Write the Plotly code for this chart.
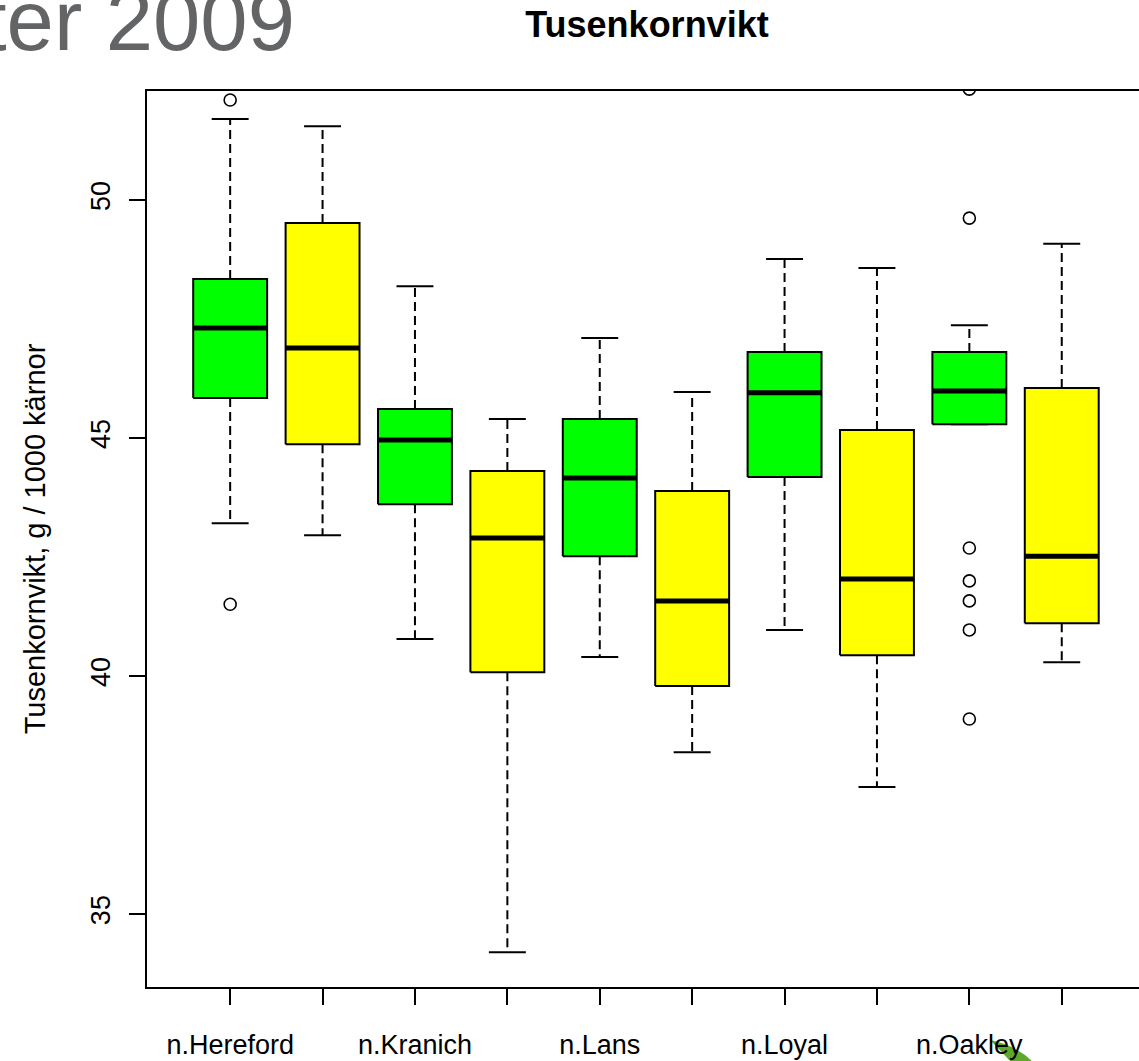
import plotly.graph_objects as go

# ---- data ----
positions = [1, 2, 3, 4, 5, 6, 7, 8, 9, 10]
tick_labels = ["n.Hereford", "", "n.Kranich", "", "n.Lans", "", "n.Loyal", "", "n.Oakley", ""]
box_colors = ["#00FF00", "#FFFF00", "#00FF00", "#FFFF00", "#00FF00",
              "#FFFF00", "#00FF00", "#FFFF00", "#00FF00", "#FFFF00"]
lower_whisker = [43.21, 42.96, 40.78, 34.20, 40.40, 38.40, 40.97, 37.67, 45.29, 40.29]
q1 = [45.84, 44.87, 43.61, 40.08, 42.52, 39.79, 44.18, 40.44, 45.29, 41.11]
median = [47.31, 46.89, 44.96, 42.90, 44.16, 41.58, 45.95, 42.04, 45.99, 42.52]
q3 = [48.34, 49.52, 45.61, 44.31, 45.40, 43.89, 46.81, 45.17, 46.81, 46.05]
upper_whisker = [51.70, 51.55, 48.19, 45.40, 47.10, 45.97, 48.76, 48.57, 47.37, 49.08]
outlier_pos = [1, 1, 9, 9, 9, 9, 9, 9, 9]
outlier_val = [52.10, 41.51, 52.33, 49.62, 42.69, 42.00, 41.58, 40.97, 39.10]

title_text = "Tusenkornvikt"
y_title = "Tusenkornvikt, g / 1000 kärnor"
slide_text = "ter 2009"

BOX_HALF = 0.4
CAP_HALF = 0.2
FONT = "Liberation Sans, Arial, Helvetica, sans-serif"

fig = go.Figure()

# whiskers (dashed)
wx, wy = [], []
for p, lo, a, b, hi in zip(positions, lower_whisker, q1, q3, upper_whisker):
    wx += [p, p, None, p, p, None]
    wy += [b, hi, None, a, lo, None]
fig.add_trace(go.Scatter(x=wx, y=wy, mode="lines", showlegend=False, hoverinfo="skip",
                         line=dict(color="black", width=2, dash="9px,5px")))

# caps
cx, cy = [], []
for p, lo, hi in zip(positions, lower_whisker, upper_whisker):
    cx += [p - CAP_HALF, p + CAP_HALF, None, p - CAP_HALF, p + CAP_HALF, None]
    cy += [hi, hi, None, lo, lo, None]
fig.add_trace(go.Scatter(x=cx, y=cy, mode="lines", showlegend=False, hoverinfo="skip",
                         line=dict(color="black", width=2)))

# boxes
for p, a, b, col in zip(positions, q1, q3, box_colors):
    fig.add_trace(go.Scatter(
        x=[p - BOX_HALF, p + BOX_HALF, p + BOX_HALF, p - BOX_HALF, p - BOX_HALF],
        y=[a, a, b, b, a], mode="lines", fill="toself", fillcolor=col,
        line=dict(color="black", width=2), showlegend=False, hoverinfo="skip"))

# medians
mx, my = [], []
for p, m in zip(positions, median):
    mx += [p - BOX_HALF, p + BOX_HALF, None]
    my += [m, m, None]
fig.add_trace(go.Scatter(x=mx, y=my, mode="lines", showlegend=False, hoverinfo="skip",
                         line=dict(color="black", width=5)))

# outliers
fig.add_trace(go.Scatter(x=outlier_pos, y=outlier_val, mode="markers", showlegend=False,
                         marker=dict(symbol="circle-open", size=12, color="black",
                                     line=dict(width=1.6, color="black"))))

W, H = 1139, 1061
fig.update_layout(
    width=W, height=H,
    margin=dict(l=147, r=0, t=91, b=74),
    paper_bgcolor="white", plot_bgcolor="white",
    font=dict(family=FONT, color="black", size=27),
    title=dict(text="<b>" + title_text + "</b>", x=0.504, xref="paper", xanchor="center",
               y=1 - 24 / H, yanchor="middle", yref="container",
               font=dict(size=36, family=FONT, color="black")),
    xaxis=dict(range=[0.1, 10.836], tickvals=positions, ticktext=tick_labels,
               showgrid=False, zeroline=False, showline=True, mirror=True,
               linecolor="black", linewidth=2, ticks="outside", ticklen=16,
               tickwidth=2, tickcolor="black", ticklabelstandoff=17,
               tickfont=dict(size=27)),
    yaxis=dict(range=[33.47, 52.29], tickvals=[35, 40, 45, 50],
               showgrid=False, zeroline=False, showline=True, mirror=False,
               linecolor="black", linewidth=2, ticks="outside", ticklen=16,
               tickwidth=2, tickcolor="black", tickangle=-90, ticklabelstandoff=8,
               tickfont=dict(size=27),
               title=dict(text=y_title, standoff=32, font=dict(size=29))),
    annotations=[dict(text=slide_text, xref="paper", yref="paper",
                      x=(297 - 147) / 992, y=1.0792,
                      xanchor="right", yanchor="middle", showarrow=False,
                      font=dict(size=85, color="#636466", family=FONT))],
    shapes=[dict(type="path", xref="paper", yref="paper",
                 path="M 0.8498 -0.0592 Q 0.875 -0.0647 0.892 -0.0826 L 0.870 -0.0826 Q 0.860 -0.0703 0.8498 -0.0592 Z",
                 fillcolor="#5FA82A", line=dict(width=0), layer="below")],
)

fig.write_html("out.html", config={"displayModeBar": False},
               post_script="document.body.style.margin='0';document.body.style.overflow='hidden';")
